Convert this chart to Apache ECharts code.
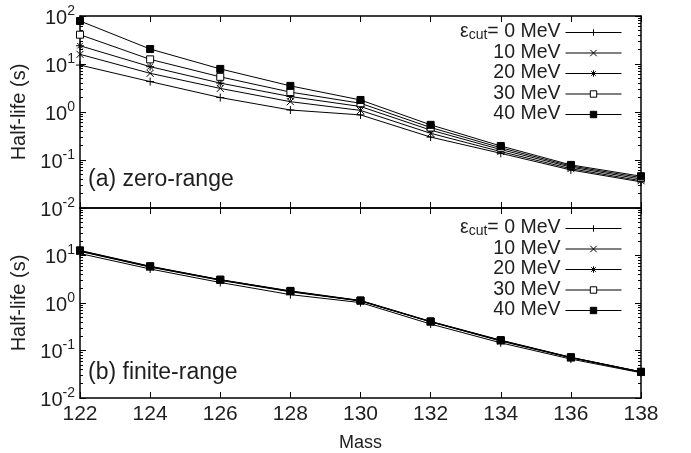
<!DOCTYPE html>
<html>
<head>
<meta charset="utf-8">
<script src="https://cdn.jsdelivr.net/npm/echarts@6/dist/echarts.min.js"></script>
<style>
  html, body { margin: 0; padding: 0; background: #fff; }
  #chart { width: 691px; height: 453px; }
</style>
</head>
<body>
<div id="chart"></div>
<script>
// Mass numbers on the x axis
const masses = [122, 124, 126, 128, 130, 132, 134, 136, 138];

// Cut-off energies (MeV) used for the legend entries
const cutLabels = ['0 MeV', '10 MeV', '20 MeV', '30 MeV', '40 MeV'];

// (a) zero-range half-lives (s)
const zero0  = [9.5, 4.3, 2.0, 1.1, 0.87, 0.30, 0.138, 0.062, 0.035];
const zero10 = [15.9, 6.4, 3.1, 1.64, 1.08, 0.36, 0.150, 0.066, 0.037];
const zero20 = [24.0, 8.8, 4.0, 2.1, 1.30, 0.42, 0.165, 0.071, 0.040];
const zero30 = [40.8, 12.5, 5.4, 2.6, 1.52, 0.475, 0.180, 0.075, 0.043];
const zero40 = [78.7, 20.5, 7.9, 3.5, 1.78, 0.54, 0.196, 0.079, 0.046];

// (b) finite-range half-lives (s)
const fin0  = [11.0, 5.2, 2.7, 1.50, 1.02, 0.360, 0.145, 0.066, 0.0340];
const fin10 = [12.2, 5.7, 3.00, 1.72, 1.10, 0.400, 0.158, 0.070, 0.0352];
const fin20 = [12.4, 5.8, 3.05, 1.75, 1.11, 0.403, 0.161, 0.071, 0.0354];
const fin30 = [12.6, 5.85, 3.08, 1.77, 1.12, 0.405, 0.163, 0.0715, 0.0355];
const fin40 = [12.8, 5.95, 3.10, 1.80, 1.13, 0.410, 0.165, 0.072, 0.0356];

// Decade tick values of the log axes
const decades = [0.01, 0.1, 1, 10, 100];

const zeroSets = [zero0, zero10, zero20, zero30, zero40];
const finSets = [fin0, fin10, fin20, fin30, fin40];

const FONT = 'Liberation Sans, Arial, Helvetica, sans-serif';
const INK = '#1e1e1e';

// Marker shapes: plus, cross, asterisk, open square, filled square
const markers = [
  { symbol: 'path://M0,5L10,5M5,0L5,10', size: 8, fill: '#000' },
  { symbol: 'path://M0,0L10,10M10,0L0,10', size: 7, fill: '#000' },
  { symbol: 'path://M0,5L10,5M5,0L5,10M1.5,1.5L8.5,8.5M8.5,1.5L1.5,8.5', size: 8, fill: '#000' },
  { symbol: 'rect', size: 7, fill: '#fff' },
  { symbol: 'rect', size: 7, fill: '#000' }
];

// Minor ticks at 2..9 times every decade
const minorTicks = [];
for (let e = -2; e < 2; e++) {
  for (let k = 2; k <= 9; k++) minorTicks.push(+(k * Math.pow(10, e)).toPrecision(3));
}

const supText = { '0.01': '-2', '0.1': '-1', '1': '0', '10': '1', '100': '2' };
function powLabel(v, hideTop) {
  const key = String(+v.toPrecision(3));
  if (!(key in supText)) return '';
  if (hideTop && key === '100') return '';
  return '{b|10}{p|' + supText[key] + '}';
}

const powRich = {
  b: { fontSize: 20, fontFamily: FONT, color: INK, lineHeight: 24, verticalAlign: 'bottom' },
  p: { fontSize: 14, fontFamily: FONT, color: INK, lineHeight: 24, verticalAlign: 'top', padding: [0, 0, 7, 0] }
};

const grids = [
  { left: 80, right: 50, top: 16, height: 192 },
  { left: 80, right: 50, top: 208, height: 191 }
];

// x axes: bottom + mirrored top for each panel
const xAxes = [];
[0, 1].forEach(g => {
  xAxes.push({
    type: 'value', gridIndex: g, min: 122, max: 138, interval: 2, position: 'bottom',
    axisLine: { show: true, lineStyle: { color: '#000', width: 1.5 } },
    axisTick: { show: true, inside: true, length: 6, lineStyle: { color: '#000' } },
    axisLabel: g === 1
      ? { show: true, fontSize: 21, fontFamily: FONT, color: INK, margin: 6 }
      : { show: false },
    splitLine: { show: false },
    name: g === 1 ? 'Mass' : '',
    nameLocation: 'middle', nameGap: 36,
    nameTextStyle: { fontSize: 18, fontFamily: FONT, color: INK }
  });
  xAxes.push({
    type: 'value', gridIndex: g, min: 122, max: 138, interval: 2, position: 'top',
    axisLine: { show: true, lineStyle: { color: '#000', width: 1.5 } },
    axisTick: { show: true, inside: true, length: 6, lineStyle: { color: '#000' } },
    axisLabel: { show: false },
    splitLine: { show: false }
  });
});

// y axes: left major (labels), left minor, right major, right minor for each panel
const yAxes = [];
[0, 1].forEach(g => {
  const base = {
    type: 'log', gridIndex: g, min: 0.01, max: 100, logBase: 10,
    splitLine: { show: false }
  };
  yAxes.push(Object.assign({}, base, {
    position: 'left',
    axisLine: { show: true, lineStyle: { color: '#000', width: 1.5 } },
    axisTick: { show: true, inside: true, length: 6, customValues: decades, lineStyle: { color: '#000' } },
    axisLabel: {
      show: true, customValues: decades, margin: 5,
      formatter: v => powLabel(v, g === 1), rich: powRich
    },
    name: 'Half-life (s)', nameLocation: 'middle', nameGap: 47,
    nameTextStyle: { fontSize: 20, fontFamily: FONT, color: INK }
  }));
  yAxes.push(Object.assign({}, base, {
    position: 'left',
    axisLine: { show: false },
    axisTick: { show: true, inside: true, length: 3, customValues: minorTicks, lineStyle: { color: '#000' } },
    axisLabel: { show: false }
  }));
  yAxes.push(Object.assign({}, base, {
    position: 'right',
    axisLine: { show: true, lineStyle: { color: '#000', width: 1.5 } },
    axisTick: { show: true, inside: true, length: 6, customValues: decades, lineStyle: { color: '#000' } },
    axisLabel: { show: false }
  }));
  yAxes.push(Object.assign({}, base, {
    position: 'right',
    axisLine: { show: false },
    axisTick: { show: true, inside: true, length: 3, customValues: minorTicks, lineStyle: { color: '#000' } },
    axisLabel: { show: false }
  }));
});

function makeSeries(sets, panel) {
  return sets.map((vals, i) => ({
    type: 'line',
    name: cutLabels[i],
    xAxisIndex: panel * 2,
    yAxisIndex: panel * 4,
    data: masses.map((m, j) => [m, vals[j]]),
    symbol: markers[i].symbol,
    symbolSize: markers[i].size,
    showAllSymbol: true,
    lineStyle: { color: '#000', width: 1 },
    itemStyle: { color: markers[i].fill, borderColor: '#000', borderWidth: 1 },
    emphasis: { disabled: true },
    z: 2 + i,
    animation: false
  }));
}

const legendBase = {
  data: cutLabels,
  orient: 'vertical',
  align: 'right',
  right: 64,
  itemWidth: 56,
  itemHeight: 8,
  itemGap: 0.5,
  selectedMode: false,
  lineStyle: { width: 1, color: '#000' },
  itemStyle: { borderWidth: 1, borderColor: '#000' },
  formatter: name => name === '0 MeV' ? '{t|ε}{s|cut}{t|= 0 MeV}' : '{t|' + name + '}',
  textStyle: {
    rich: {
      t: { fontSize: 19.5, fontFamily: FONT, color: INK, lineHeight: 19, verticalAlign: 'bottom' },
      s: { fontSize: 14, fontFamily: FONT, color: INK, lineHeight: 14, verticalAlign: 'bottom', padding: [5, 0, 0, 0] }
    }
  }
};

const option = {
  backgroundColor: '#fff',
  animation: false,
  grid: grids,
  xAxis: xAxes,
  yAxis: yAxes,
  legend: [
    Object.assign({}, legendBase, { top: 17 }),
    Object.assign({}, legendBase, { top: 213 })
  ],
  graphic: [
    { type: 'text', left: 88, top: 168, style: { text: '(a) zero-range', fontSize: 23, fontFamily: FONT, fill: INK } },
    { type: 'text', left: 88, top: 361, style: { text: '(b) finite-range', fontSize: 23, fontFamily: FONT, fill: INK } }
  ],
  series: makeSeries(zeroSets, 0).concat(makeSeries(finSets, 1))
};

const chart = echarts.init(document.getElementById('chart'), null, { renderer: 'canvas' });
chart.setOption(option);
</script>
</body>
</html>
